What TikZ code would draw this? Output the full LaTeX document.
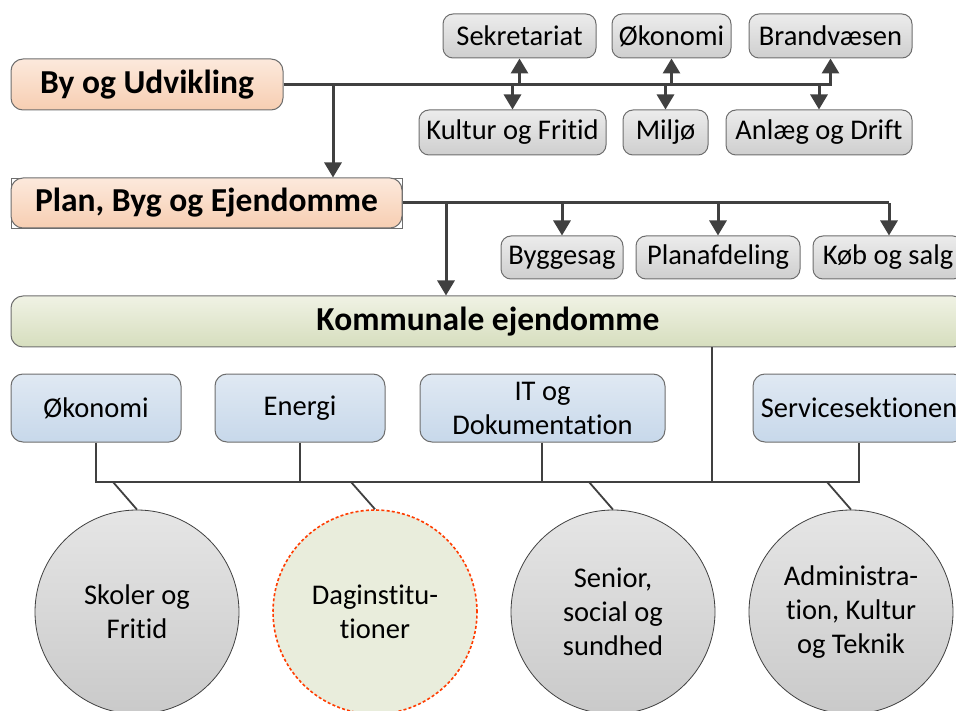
\documentclass[tikz,border=0pt]{standalone}
\usepackage{fontspec}
\setmainfont{Carlito}[RawFeature={-liga,-clig,-calt,-dlig}]
\usetikzlibrary{arrows.meta,shadings}
\definecolor{linegray}{HTML}{404040}
\definecolor{edgegray}{HTML}{6E6E6E}
% "t" followed by "i" without the ti ligature
\newcommand\tisep{t\kern0pt i}
\begin{document}
\begin{tikzpicture}[x=1pt,y=-1pt,
  txt/.style={font=\fontsize{28.5}{34}\selectfont, align=center, inner sep=0pt},
  ttl/.style={font=\bfseries\fontsize{33.5}{40}\selectfont, inner sep=0pt},
  graybox/.style={txt, draw=edgegray, line width=1pt, rounded corners=10pt,
    top color=gray!15, bottom color=gray!38},
  peachbox/.style={ttl, draw=edgegray, line width=1pt, rounded corners=12pt,
    top color={rgb,255:red,252;green,233;blue,220}, bottom color={rgb,255:red,247;green,206;blue,178}},
  bluebox/.style={txt, draw=edgegray, line width=1pt, rounded corners=12pt,
    top color={rgb,255:red,224;green,233;blue,243}, bottom color={rgb,255:red,199;green,216;blue,234}},
  greenbar/.style={ttl, draw=edgegray, line width=1pt, rounded corners=12pt,
    top color={rgb,255:red,240;green,242;blue,228}, bottom color={rgb,255:red,214;green,222;blue,190}},
  unit/.style={txt, circle, minimum size=204pt, draw=linegray, line width=0.8pt,
    top color=gray!20, bottom color=gray!42},
  main/.style={draw=linegray, line width=3pt},
  arr/.style={main, -{Triangle[width=17pt,length=15pt]}},
  thin/.style={draw=linegray, line width=1.8pt},
  ]
\useasboundingbox (0,0) rectangle (956,711);

% --- By og Udvikling and its departments
\node[peachbox, minimum width=272pt, minimum height=51pt] (by) at (147,84.5) {By og Udvikling};
\node[graybox, minimum width=153pt, minimum height=44pt] (sek) at (519.5,36) {Sekretariat};
\node[graybox, minimum width=119pt, minimum height=44pt] (oko) at (671.5,36) {Økonomi};
\node[graybox, minimum width=163pt, minimum height=44pt] (brand) at (830.5,36) {Brandvæsen};
\node[graybox, minimum width=187pt, minimum height=45pt] (kul) at (512.5,132.5) {Kultur og Fri\tisep d};
\node[graybox, minimum width=85pt, minimum height=45pt] (mil) at (665.5,132.5) {Miljø};
\node[graybox, minimum width=186pt, minimum height=45pt] (anl) at (819,132.5) {Anlæg og Drift};

% --- Plan, Byg og Ejendomme and its sections
\draw[edgegray, line width=0.8pt] (11,178) rectangle (402,228);
\node[peachbox, minimum width=391pt, minimum height=50pt] (plan) at (206.5,203) {Plan, Byg og Ejendomme};
\node[graybox, minimum width=122pt, minimum height=43pt] (byg) at (562,257.5) {Byggesag};
\node[graybox, minimum width=164pt, minimum height=43pt] (pla) at (718,257.5) {Planafdeling};
\node[graybox, minimum width=150pt, minimum height=43pt] (koeb) at (888,257.5) {Køb og salg};

% --- Kommunale ejendomme
\node[greenbar, minimum width=954pt, minimum height=51pt] (kom) at (488,321.5) {Kommunale ejendomme};
\node[bluebox, minimum width=170pt, minimum height=68pt] (kok) at (96,408) {Økonomi};
\node[bluebox, minimum width=170pt, minimum height=68pt] (ene) at (300,408) {Energi};
\node[bluebox, minimum width=245pt, minimum height=68pt] (it) at (542.5,408) {IT og\\Dokumenta\tisep on};
\node[bluebox, minimum width=212pt, minimum height=68pt] (ser) at (859,408) {Servicesek\tisep onen};

% --- Institution areas
\node[unit] (c1) at (137,612) {Skoler og\\Fri\tisep d};
\node[txt, circle, minimum size=204pt, draw={rgb,255:red,255;green,60;blue,0}, line width=1.6pt,
  dash pattern=on 3pt off 2.2pt, fill={rgb,255:red,233;green,237;blue,220}] (c2) at (375,612) {Daginsti\kern0pt tu-\\\tisep oner};
\node[unit] (c3) at (613,612) {Senior,\\social og\\sundhed};
\node[unit] (c4) at (851,612) {Administra-\\\tisep on, Kultur\\og Teknik};

% --- Connectors: By og Udvikling
\draw[arr] (by.east) -- (brand.south |- by.east) -- (brand.south);
\draw[arr] (sek.south |- by.east) -- (sek.south);
\draw[arr] (oko.south |- by.east) -- (oko.south);
\draw[arr] (kul.north |- by.east) -- (kul.north);
\draw[arr] (mil.north |- by.east) -- (mil.north);
\draw[arr] (anl.north |- by.east) -- (anl.north);
\coordinate (j1) at (333,84.5);
\draw[arr] (j1) -- (j1 |- plan.north);

% --- Connectors: Plan, Byg og Ejendomme
\coordinate (j2) at (889,203);
\draw[main] (plan.east) -- (j2);
\draw[arr] (byg.north |- plan.east) -- (byg.north);
\draw[arr] (pla.north |- plan.east) -- (pla.north);
\draw[arr] (j2) -- (j2 |- koeb.north);
\coordinate (j3) at (446,203);
\draw[arr] (j3) -- (j3 |- kom.north);

% --- Connectors: Kommunale ejendomme bus
\coordinate (bl) at (96,482);
\coordinate (br) at (859,482);
\coordinate (kd) at (712,482);
\draw[thin] (kok.south) -- (bl) -- (br) -- (ser.south);
\draw[thin] (ene.south) -- (ene.south |- bl);
\draw[thin] ([xshift=-0.5pt]it.south) -- ([xshift=-0.5pt]it.south |- bl);
\draw[thin] (kd |- kom.south) -- (kd);
\coordinate (d1) at (113,482);
\coordinate (d2) at (351,482);
\coordinate (d3) at (589,482);
\coordinate (d4) at (827,482);
\draw[thin] (d1) -- (c1.north);
\draw[thin] (d2) -- (c2.north);
\draw[thin] (d3) -- (c3.north);
\draw[thin] (d4) -- (c4.north);
\end{tikzpicture}
\end{document}
